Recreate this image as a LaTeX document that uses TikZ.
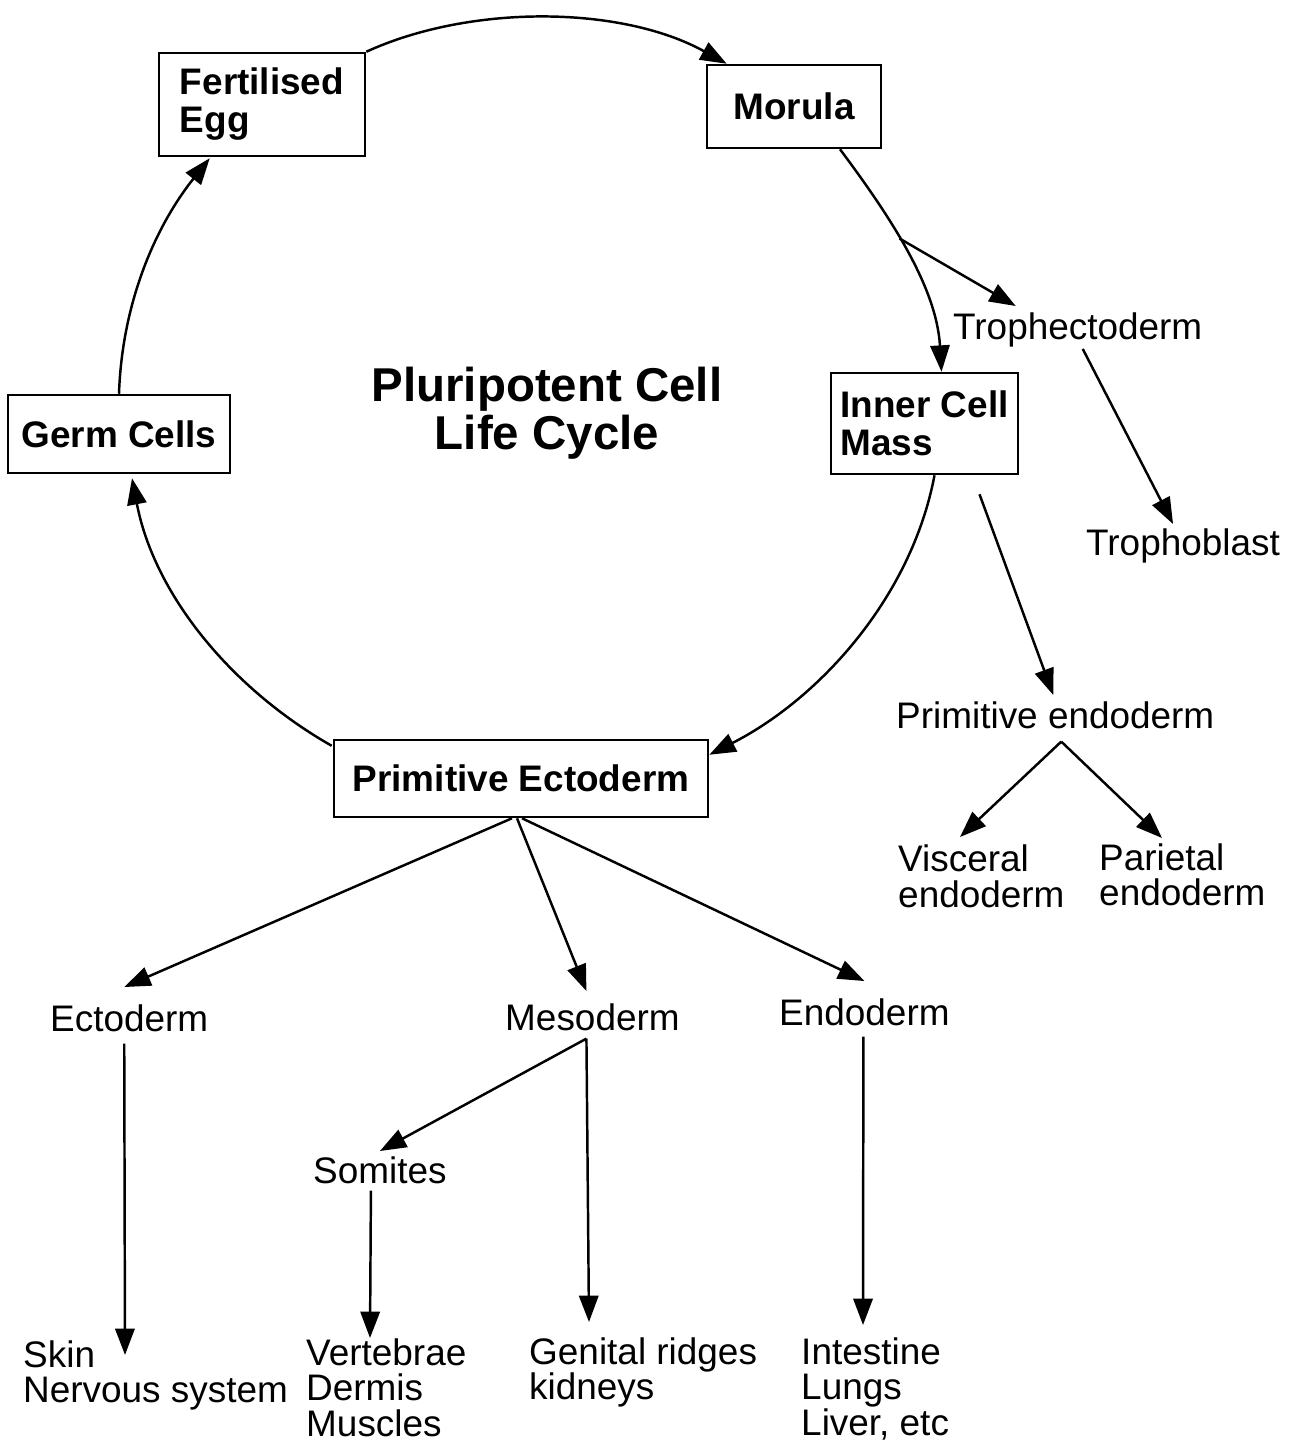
\documentclass[tikz,border=0pt]{standalone}
\usepackage{fontspec}
\setmainfont{Liberation Sans}
\usetikzlibrary{arrows.meta,calc}

\begin{document}
\begin{tikzpicture}[x=0.01cm, y=-0.01cm,
   line width=0.7pt,
   >={Triangle[length=7.5pt,width=5.5pt]},
   stage/.style={draw, rectangle, align=left, inner sep=0pt,
                 font=\fontsize{10.5}{10.8}\selectfont\bfseries},
   tissue/.style={inner sep=0pt, align=left,
                  font=\fontsize{10.5}{10.2}\selectfont},
   heading/.style={inner sep=0pt, align=center,
                   font=\fontsize{13.5}{13.5}\selectfont\bfseries}]

\useasboundingbox (0,0) rectangle (1296,1445);

\node[stage, minimum width=2.06cm, minimum height=1.03cm] (egg) at (262,104.5) {Fertilised\\Egg};
\node[stage, minimum width=1.74cm, minimum height=0.83cm] (morula) at (794,106.5) {Morula};
\node[stage, minimum width=1.87cm, minimum height=1.01cm] (icm) at (924.5,423.5) {Inner Cell\\Mass};
\node[stage, minimum width=3.74cm, minimum height=0.77cm] (pe) at (521,778.5) {Primitive Ectoderm};
\node[stage, minimum width=2.22cm, minimum height=0.78cm] (germ) at (119,434) {Germ Cells};

\node[heading, anchor=north] (cycle) at (547,366) {Pluripotent Cell\\Life Cycle};

\node[tissue, anchor=base west] (troph) at (952,339) {Trophectoderm};
\node[tissue, anchor=base west] (tropho) at (1085,555) {Trophoblast};
\node[tissue, anchor=base west] (primendo) at (895,728) {Primitive endoderm};
\node[tissue, anchor=north west] (visc) at (897,844) {Visceral\\endoderm};
\node[tissue, anchor=north west] (pari) at (1098,842) {Parietal\\endoderm};
\node[tissue, anchor=base west] (ecto) at (49,1031) {Ectoderm};
\node[tissue, anchor=base west] (meso) at (504,1030) {Mesoderm};
\node[tissue, anchor=base west] (endo) at (778,1025) {Endoderm};
\node[tissue, anchor=base west] (somites) at (312,1183) {Somites};
\node[tissue, anchor=north west] (skin) at (22,1339) {Skin\\Nervous system};
\node[tissue, anchor=north west] (vert) at (305,1337) {Vertebrae\\Dermis\\Muscles};
\node[tissue, anchor=north west] (genital) at (528,1336) {Genital ridges\\kidneys};
\node[tissue, anchor=north west] (intest) at (800,1336) {Intestine\\Lungs\\Liver, etc};

\draw[->] (egg.north east) .. controls +(105,-48) and +(-105,-58) .. ($(morula.north west)+(21,0)$);
\draw[->] ($(morula.south)+(46,0)$) .. controls +(50,67) and +(-5,-85) .. ($(icm.north)+(17,0)$) coordinate[pos=0.43] (split);
\draw[->] ($(icm.south)+(10,0)$) .. controls +(-23,122) and +(110,-56) .. ($(pe.north east)+(0,16)$);
\draw[->] ($(pe.north west)+(-1,7)$) .. controls +(-102,-58) and +(22,115) .. ($(germ.south)+(13,4)$);
\draw[->] (germ.north) .. controls +(3,-90) and +(-55,69) .. ($(egg.south west)+(52,1)$);

\draw[->] (split) -- ($(troph.north)+(-62,-5)$);
\draw[->] ($(troph.south)+(5,1)$) -- ($(tropho.north)+(-10,-3)$);
\draw[->] ($(icm.south)+(55,19)$) -- ($(primendo.north)+(-2,-5)$);
\draw[->] ($(primendo.south)+(6,12)$) -- ($(visc.north west)+(63,-7)$);
\draw[->] ($(primendo.south)+(6,12)$) -- ($(pari.north west)+(64,-4)$);

\draw[->] ($(pe.south)+(-9,0)$) -- ($(ecto.north)+(-5,-16)$);
\draw[->] ($(pe.south)+(-4,0)$) -- ($(meso.north)+(-6,-11)$);
\draw[->] ($(pe.south)+(1,0)$) -- ($(endo.north)+(0,-16)$);
\draw[->] ($(ecto.south)+(-5,11)$) -- ($(skin.north west)+(103,16)$);
\draw[->] ($(meso.south)+(-6,7)$) -- ($(somites.north)+(0,-4)$);
\draw[->] ($(meso.south)+(-6,7)$) -- ($(genital.north west)+(61,-14)$);
\draw[->] ($(somites.south)+(-9,6)$) -- ($(vert.north west)+(65,1)$);
\draw[->] ($(endo.south)+(-1,10)$) -- ($(intest.north west)+(63,-11)$);

\end{tikzpicture}
\end{document}
